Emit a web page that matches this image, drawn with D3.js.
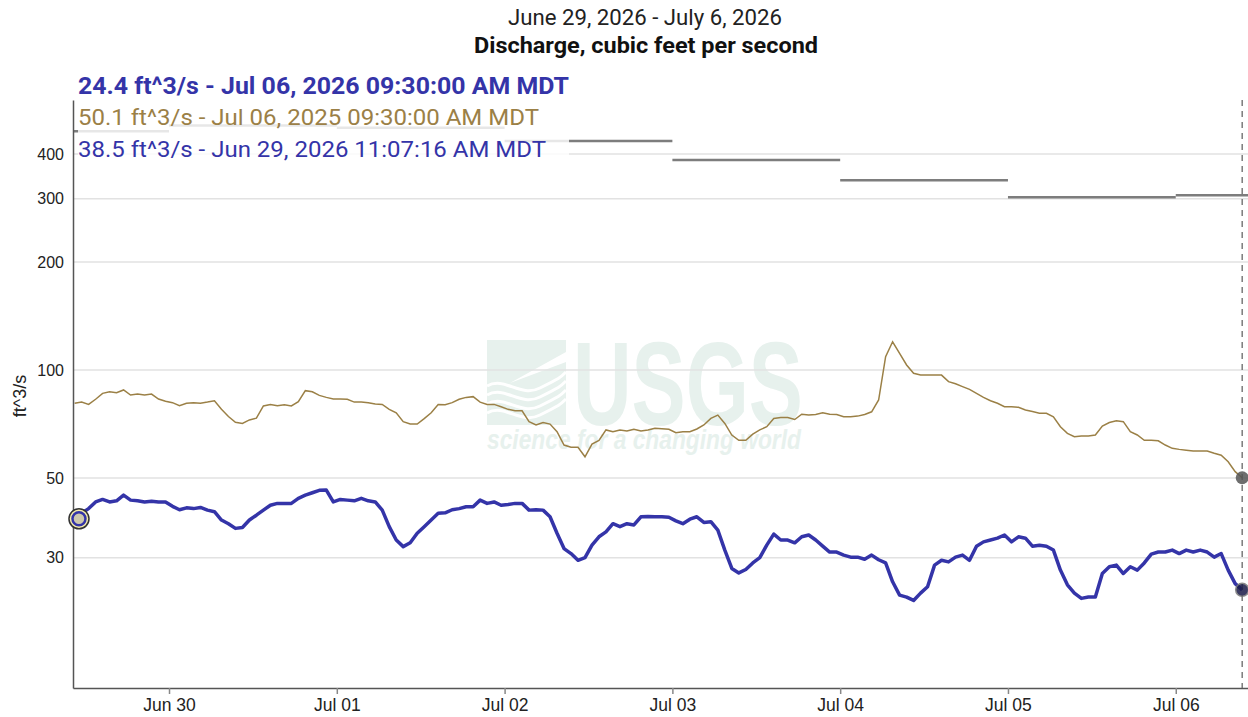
<!DOCTYPE html>
<html><head><meta charset="utf-8">
<script src="https://cdn.jsdelivr.net/npm/d3@7"></script>
<style>body{margin:0;background:#fff}svg{display:block}</style>
</head><body>
<svg id="chart" width="1248" height="717"></svg>
<script>
// ---------------- data ----------------
const titleLine1 = "June 29, 2026 - July 6, 2026";
const titleLine2 = "Discharge, cubic feet per second";
const legendTexts = [
  "24.4 ft^3/s - Jul 06, 2026 09:30:00 AM MDT",
  "50.1 ft^3/s - Jul 06, 2025 09:30:00 AM MDT",
  "38.5 ft^3/s - Jun 29, 2026 11:07:16 AM MDT"
];
const hourlyStart = "2026-06-29T10:30:00Z";   // hourly grid (local MDT wall time)
const firstCurrentTime = "2026-06-29T11:07:16Z";
// 2026 discharge (ft^3/s), first value at 11:07:16, then hourly from 11:30
const currentValues = [38.5,39.9,41.1,42.9,43.6,42.9,43.2,44.8,43.4,43.2,42.9,43.1,42.9,42.9,41.7,40.8,41.3,41.1,41.4,40.7,
  40.3,38.2,37.3,36.2,36.4,38.2,39.4,40.7,42.0,42.5,42.5,42.5,43.9,44.8,45.5,46.2,46.3,42.9,43.6,43.4,
  43.2,43.9,43.2,42.9,40.7,36.6,33.6,32.2,33.0,35.1,36.6,38.2,39.9,40.0,40.8,41.1,41.6,41.6,43.4,42.5,
  42.9,42.0,42.2,42.5,42.5,40.7,40.8,40.7,39.0,35.1,31.8,30.8,29.5,30.0,32.5,34.3,35.4,37.3,36.6,37.3,
  37.0,39.0,39.1,39.0,39.0,38.9,38.0,37.3,38.4,39.0,37.6,37.8,35.8,31.5,28.0,27.2,27.8,29.0,30.0,32.5,
  34.9,33.6,33.6,33.0,34.3,34.7,33.6,32.3,31.1,31.1,30.5,30.1,30.1,29.7,30.5,29.6,29.0,25.7,23.6,23.3,
  22.8,23.9,24.9,28.6,29.5,29.2,30.1,30.5,29.5,32.3,33.2,33.6,34.0,34.7,33.2,34.3,34.0,32.3,32.5,32.3,
  31.5,27.7,25.2,23.9,23.1,23.3,23.3,27.1,28.3,28.6,27.1,28.3,27.7,29.0,30.7,31.1,31.1,31.5,30.8,31.5,
  31.1,31.5,31.1,30.1,30.8,27.7,25.4,24.4];
// 2025 discharge (ft^3/s), shifted one year, hourly from 10:30
const lastYearValues = [80.8,81.4,80.2,82.9,86.1,87.0,86.4,88.0,85.2,85.7,85.2,85.7,83.0,81.8,81.1,79.5,80.8,81.1,80.8,81.4,
  82.1,77.7,74.2,71.5,71.0,72.6,73.4,79.4,80.2,79.5,80.0,79.4,81.6,87.6,87.0,85.0,83.9,83.0,83.0,82.9,
  81.4,81.4,81.1,80.4,80.2,77.7,76.0,71.8,70.7,70.7,73.2,76.0,80.2,80.0,81.1,82.9,83.9,84.3,81.4,80.2,
  80.2,79.0,77.7,77.0,77.0,71.8,70.3,71.4,70.7,67.3,61.8,60.9,60.9,57.3,62.2,63.7,68.1,67.3,68.1,67.6,
  68.4,67.6,68.1,68.8,68.6,68.4,66.9,67.3,67.3,68.5,70.3,73.3,74.9,71.0,65.9,63.7,63.7,66.3,68.1,69.5,
  73.3,73.7,73.7,72.8,75.3,74.9,75.2,76.0,75.3,75.2,74.1,74.1,74.4,75.2,76.5,82.5,108.9,119.9,111.3,103.3,
  97.9,96.8,96.8,96.8,96.8,92.8,91.6,89.9,88.3,86.1,83.9,82.1,80.8,79.0,79.0,78.7,77.4,76.6,75.8,75.8,
  74.1,69.5,66.6,65.2,65.5,65.5,65.9,69.8,71.4,72.2,71.8,67.3,65.9,63.7,63.7,63.5,61.8,60.5,60.1,59.8,
  59.5,59.5,59.5,58.6,57.9,55.5,52.1,50.1];
// daily statistic (one value per day)
const statDays = ["2026-06-29","2026-06-30","2026-07-01","2026-07-02","2026-07-03","2026-07-04","2026-07-05","2026-07-06"];
const statValues = [463,480,473,435,385,338,303,307];
const yTickValues = [30,50,100,200,300,400];
const xTickDays = ["2026-06-30","2026-07-01","2026-07-02","2026-07-03","2026-07-04","2026-07-05","2026-07-06"];
const xTickLabels = ["Jun 30","Jul 01","Jul 02","Jul 03","Jul 04","Jul 05","Jul 06"];

// ---------------- chart ----------------
const svg = d3.select("#chart");
const L = 73, R = 1248, T = 100, B = 688;
const x = d3.scaleUtc().domain([new Date("2026-06-29T10:16:00Z"), new Date("2026-07-06T10:20:00Z")]).range([L, R]);
const y = d3.scaleLog().domain([13, 565.5]).range([B, T]);
const HOUR = 3600e3, DAY = 24*HOUR;
const t0 = new Date(hourlyStart).getTime();
const curData = currentValues.map((v,i)=>({t: i===0 ? new Date(firstCurrentTime) : new Date(t0 + i*HOUR), v}));
const oldData = lastYearValues.map((v,i)=>({t: new Date(t0 + i*HOUR), v}));
const statData = statDays.map((d,i)=>{const s = new Date(d+"T00:00:00Z"); return {t0: s, t1: new Date(s.getTime()+DAY), v: statValues[i]};});

svg.append("defs").append("clipPath").attr("id","plot").append("rect")
  .attr("x",L).attr("y",T).attr("width",R-L).attr("height",B-T);

// titles
svg.append("text").attr("x",645).attr("y",25).attr("text-anchor","middle").attr("textLength",274).attr("lengthAdjust","spacingAndGlyphs")
  .style("font-family","Roboto, sans-serif").style("font-size","21.5px").attr("fill","#222").text(titleLine1);
svg.append("text").attr("x",646).attr("y",53).attr("text-anchor","middle").attr("textLength",344).attr("lengthAdjust","spacingAndGlyphs")
  .style("font-family","Roboto, sans-serif").style("font-size","22px").style("font-weight","bold").attr("fill","#111").text(titleLine2);

// watermark
const wm = svg.append("g").attr("fill","#e7f1ed");
wm.append("path").attr("d","M487,340 H566 V352 L510,383 L566,362 V425 H487 Z");
const waves = svg.append("g").attr("fill","none").attr("stroke","#fff").attr("stroke-width",3);
[0,9,18,27].forEach(o=>{
  waves.append("path").attr("d",`M487,${386+o} C505,${376+o} 520,${398+o} 540,${388+o} S560,${378+o} 566,${372+o}`);
});
const wmText = wm.append("text").style("font-weight","bold");
wmText.append("tspan").attr("x",573).attr("y",425).attr("textLength",230).attr("lengthAdjust","spacingAndGlyphs")
  .style("font-family","'Liberation Sans Narrow', 'Liberation Sans', sans-serif").style("font-size","118px").text("USGS");
wmText.append("tspan").attr("x",487).attr("y",449).attr("textLength",314).attr("lengthAdjust","spacingAndGlyphs")
  .style("font-family","'Liberation Sans', sans-serif").style("font-style","italic").style("font-size","27px").text("science for a changing world");

// grid
svg.append("g").selectAll("line").data(yTickValues).join("line")
  .attr("x1",L).attr("x2",R).attr("y1",d=>y(d)).attr("y2",d=>y(d))
  .attr("stroke","#e2e2e2").attr("stroke-width",1.5);

const plot = svg.append("g").attr("clip-path","url(#plot)");
// statistic daily segments
plot.append("g").selectAll("line").data(statData).join("line")
  .attr("x1",d=>x(d.t0)).attr("x2",d=>x(d.t1)).attr("y1",d=>y(d.v)).attr("y2",d=>y(d.v))
  .attr("stroke","#7d7d7d").attr("stroke-width",2.5);
// last year
plot.append("path").datum(oldData)
  .attr("d", d3.line().x(d=>x(d.t)).y(d=>y(d.v)))
  .attr("fill","none").attr("stroke","#9b8046").attr("stroke-width",1.5);
// current
plot.append("path").datum(curData)
  .attr("d", d3.line().x(d=>x(d.t)).y(d=>y(d.v)))
  .attr("fill","none").attr("stroke","#3434a8").attr("stroke-width",3.5).attr("stroke-linejoin","round");

// axes
const yAxis = svg.append("g").attr("transform",`translate(${L},0)`)
  .call(d3.axisLeft(y).tickValues(yTickValues).tickFormat(d3.format("d")).tickSize(0).tickPadding(9));
yAxis.select(".domain").attr("stroke","#555").attr("stroke-width",1.5);
yAxis.selectAll("text").style("font-family","'Liberation Sans', Arial, sans-serif").style("font-size","16px").attr("fill","#222");

const xAxis = svg.append("g").attr("transform",`translate(0,${B})`)
  .call(d3.axisBottom(x).tickValues(xTickDays.map(d=>new Date(d+"T00:00:00Z")))
    .tickFormat((d,i)=>xTickLabels[i]).tickSize(6).tickSizeOuter(0).tickPadding(5));
xAxis.select(".domain").attr("stroke","#555").attr("stroke-width",1.5);
xAxis.selectAll(".tick line").attr("stroke","#888").attr("stroke-width",1.5);
xAxis.selectAll("text").style("font-family","'Liberation Sans', Arial, sans-serif").style("font-size","17.5px").attr("fill","#222");

svg.append("text").attr("transform","translate(26,396) rotate(-90)").attr("text-anchor","middle")
  .style("font-family","'Liberation Sans', Arial, sans-serif").style("font-size","18px").attr("fill","#222").text("ft^3/s");

// now line
const lastT = curData[curData.length-1].t;
svg.append("line").attr("x1",x(lastT)).attr("x2",x(lastT)).attr("y1",T).attr("y2",B)
  .attr("stroke","#666").attr("stroke-width",1.3).attr("stroke-dasharray","6,5");

// markers
const s0 = curData[0];
svg.append("circle").attr("cx",x(s0.t)).attr("cy",y(s0.v)).attr("r",10).attr("fill","#f6eeac").attr("stroke","#333").attr("stroke-width",1.5);
svg.append("circle").attr("cx",x(s0.t)).attr("cy",y(s0.v)).attr("r",6.5).attr("fill","#cdc8ae").attr("stroke","#3434a8").attr("stroke-width",2.5);
const oEnd = oldData[oldData.length-1];
svg.append("circle").attr("cx",x(oEnd.t)).attr("cy",y(oEnd.v)).attr("r",6.5).attr("fill","#555").attr("opacity",0.85);
const cEnd = curData[curData.length-1];
svg.append("circle").attr("cx",x(cEnd.t)).attr("cy",y(cEnd.v)).attr("r",6.5).attr("fill","#1b1b48").attr("stroke","#777").attr("stroke-width",1.5).attr("opacity",0.85);

// legend
const lg = svg.append("g");
const bg = lg.append("rect").attr("fill","#fff").attr("opacity",0.82);
const lgSpec = [
  {y:94, color:"#3434a8", bold:true, size:23, w:491},
  {y:125, color:"#9b8046", bold:false, size:22, w:461},
  {y:157, color:"#3434a8", bold:false, size:22, w:468}
];
legendTexts.forEach((t,i)=>{
  const s = lgSpec[i];
  lg.append("text").attr("x",78).attr("y",s.y).attr("fill",s.color)
    .attr("textLength",s.w).attr("lengthAdjust","spacingAndGlyphs")
    .style("font-family","Roboto, sans-serif").style("font-size",s.size+"px")
    .style("font-weight",s.bold?"bold":"normal").text(t);
});
const bb = lg.node().getBBox();
bg.attr("x",78).attr("y",bb.y).attr("width",bb.x+bb.width-78).attr("height",bb.height);
</script>
</body></html>
